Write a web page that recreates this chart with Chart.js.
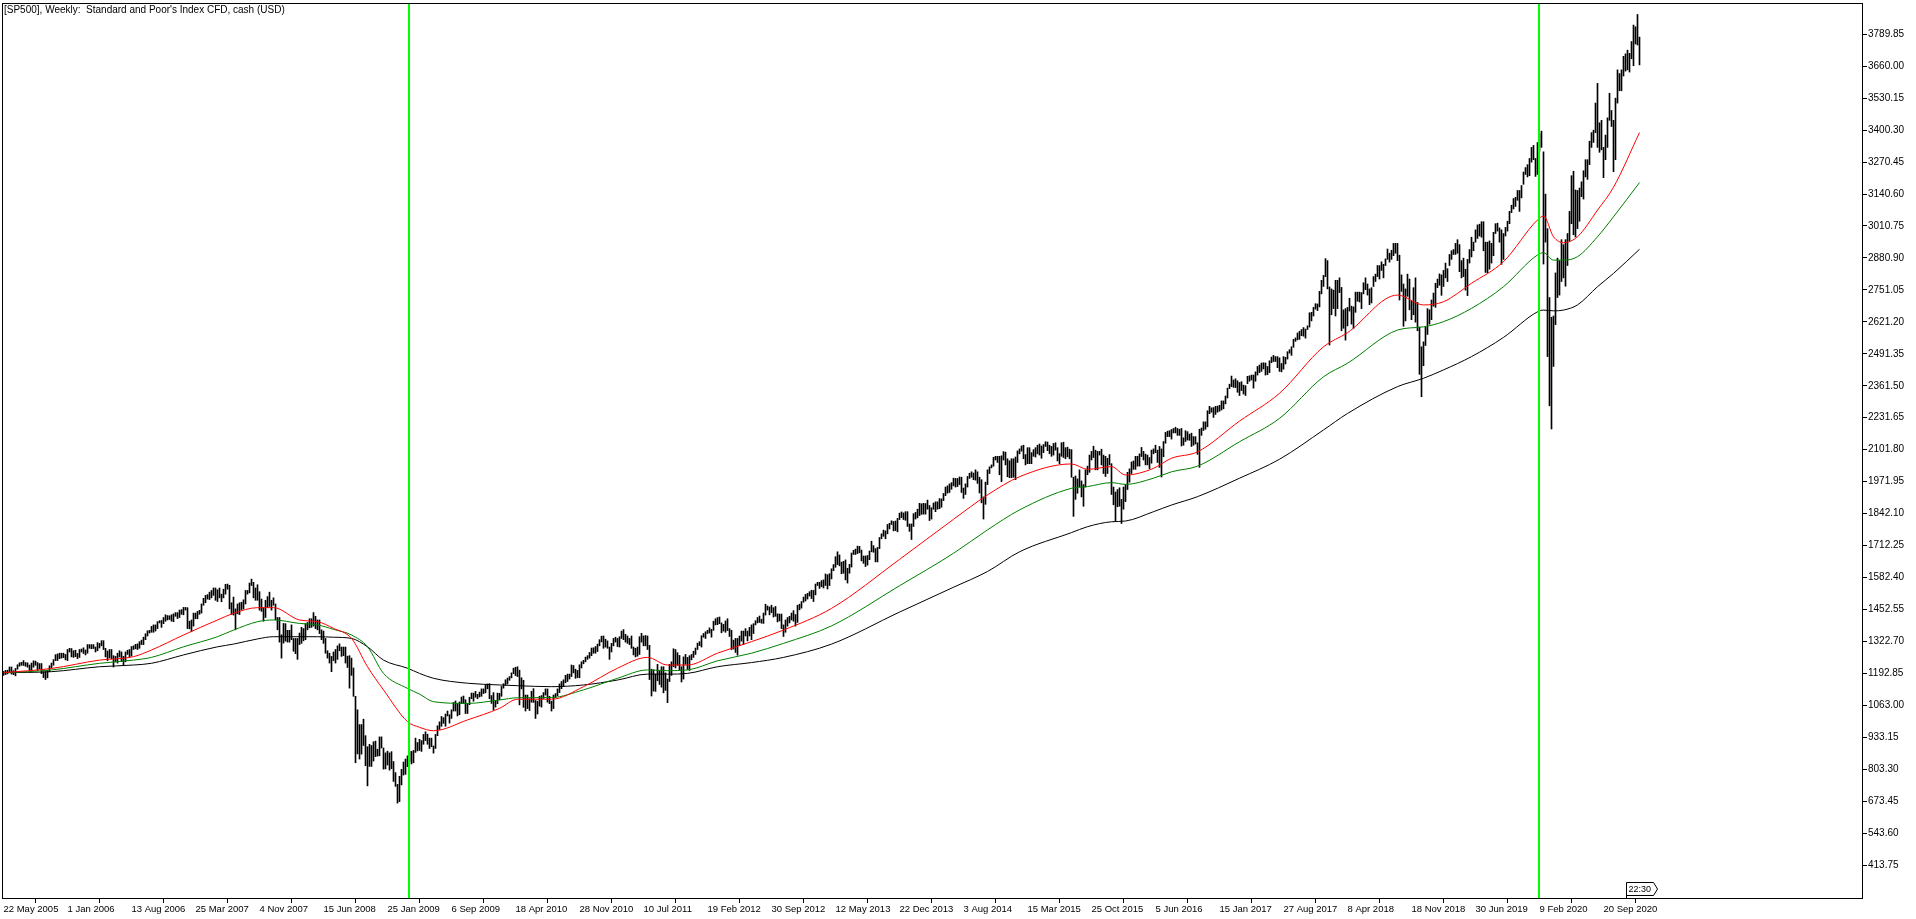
<!DOCTYPE html>
<html>
<head>
<meta charset="utf-8">
<title>SP500 Weekly</title>
<script src="https://cdn.jsdelivr.net/npm/chart.js@4.4.1/dist/chart.umd.min.js"></script>
<style>
  html, body { margin: 0; padding: 0; background: #fff; overflow: hidden; }
  #wrap { width: 1916px; height: 919px; }
</style>
</head>
<body>
<div id="wrap"><canvas id="graph" width="1916" height="919"></canvas></div>
<script>
const chartTitle = "[SP500], Weekly:  Standard and Poor's Index CFD, cash (USD)";

// weekly [high, low], one entry per week, first week = 22 May 2005
const bars2005 = [[1201,1185],[1205,1188],[1206,1191],[1219,1197],[1219,1190],[1204,1188],[1213,1183],[1228,1210],[1236,1222],[1238,1226],[1245,1225],[1237,1222],[1236,1218],[1227,1205],[1235,1202],[1244,1218],[1243,1226],[1237,1205],[1233,1211],[1233,1192],[1200,1176],[1200,1168],[1205,1175],[1224,1200],[1235,1215],[1249,1226],[1269,1245],[1272,1245],[1275,1253],[1275,1255],[1275,1257],[1270,1248]];
const bars2006 = [[1290,1245],[1295,1280],[1294,1260],[1285,1258],[1287,1261],[1274,1253],[1290,1258],[1292,1280],[1297,1274],[1288,1268],[1310,1275],[1310,1295],[1310,1293],[1310,1294],[1300,1280],[1318,1285],[1315,1296],[1326,1305],[1326,1290],[1295,1260],[1284,1245],[1290,1256],[1290,1252],[1265,1219],[1262,1240],[1275,1235],[1285,1260],[1280,1242],[1262,1224],[1280,1240],[1287,1270],[1290,1260],[1302,1264],[1305,1290],[1311,1293],[1313,1290],[1322,1295],[1328,1310],[1340,1310],[1354,1330],[1366,1345],[1368,1357],[1384,1360],[1390,1360],[1390,1365],[1403,1375],[1407,1398],[1408,1380],[1420,1395],[1431,1405],[1428,1410],[1427,1412]];
const bars2007 = [[1431,1405],[1435,1403],[1440,1425],[1440,1416],[1450,1420],[1452,1433],[1461,1431],[1461,1450],[1460,1375],[1405,1374],[1410,1363],[1438,1385],[1438,1415],[1445,1415],[1449,1433],[1475,1438],[1498,1470],[1510,1480],[1513,1495],[1523,1493],[1530,1500],[1540,1510],[1540,1490],[1533,1485],[1540,1500],[1515,1484],[1535,1500],[1555,1515],[1556,1535],[1551,1455],[1480,1433],[1503,1430],[1455,1370],[1475,1435],[1480,1432],[1482,1452],[1492,1455],[1530,1475],[1530,1515],[1560,1520],[1576,1550],[1563,1500],[1540,1490],[1553,1490],[1525,1450],[1495,1445],[1460,1405],[1490,1420],[1505,1460],[1523,1465],[1490,1450],[1500,1470]];
const bars2008 = [[1475,1411],[1420,1370],[1420,1320],[1350,1255],[1396,1316],[1395,1324],[1368,1320],[1368,1320],[1390,1330],[1335,1283],[1335,1273],[1335,1250],[1357,1310],[1380,1315],[1375,1325],[1395,1330],[1400,1370],[1415,1378],[1415,1380],[1440,1385],[1425,1375],[1410,1370],[1410,1355],[1370,1330],[1365,1315],[1335,1275],[1285,1255],[1275,1235],[1262,1200],[1280,1245],[1290,1235],[1305,1250],[1313,1285],[1300,1262],[1300,1265],[1300,1235],[1263,1217],[1265,1133],[1255,1185],[1215,1100],[1100,830],[1045,866],[985,845],[985,865],[1007,900],[940,818],[895,736],[905,815],[900,815],[915,837],[918,855],[885,857]];
const bars2009 = [[935,858],[935,890],[890,804],[870,805],[877,821],[870,800],[875,806],[835,754],[790,734],[742,666],[775,672],[803,740],[833,780],[845,783],[858,814],[876,836],[876,825],[880,830],[930,872],[912,878],[925,880],[920,876],[945,905],[956,920],[946,905],[930,888],[930,895],[898,869],[945,888],[980,940],[996,965],[1018,978],[1013,990],[1028,978],[1040,1020],[1025,991],[1045,1010],[1075,1040],[1081,1040],[1070,1020],[1077,1025],[1097,1070],[1101,1072],[1086,1030],[1070,1030],[1096,1066],[1113,1090],[1113,1080],[1120,1096],[1108,1090],[1117,1097],[1130,1100]];
const bars2010 = [[1130,1111],[1146,1114],[1150,1130],[1151,1090],[1103,1071],[1115,1044],[1081,1056],[1113,1070],[1112,1086],[1140,1100],[1151,1133],[1167,1145],[1174,1150],[1180,1165],[1195,1175],[1214,1192],[1218,1184],[1220,1180],[1206,1065],[1175,1130],[1165,1055],[1105,1040],[1105,1050],[1090,1042],[1120,1076],[1131,1075],[1083,1010],[1080,1028],[1100,1060],[1103,1056],[1115,1091],[1130,1105],[1130,1076],[1100,1070],[1080,1040],[1105,1050],[1111,1095],[1130,1102],[1150,1115],[1160,1131],[1167,1140],[1185,1155],[1190,1160],[1190,1170],[1227,1180],[1225,1195],[1210,1173],[1205,1176],[1228,1175],[1240,1215],[1246,1232],[1259,1240]];
const bars2011 = [[1265,1250],[1278,1255],[1296,1265],[1297,1275],[1302,1275],[1312,1282],[1330,1305],[1344,1321],[1345,1295],[1332,1300],[1325,1295],[1300,1250],[1315,1280],[1335,1305],[1340,1320],[1335,1302],[1342,1300],[1365,1335],[1371,1330],[1352,1320],[1345,1315],[1335,1310],[1345,1295],[1300,1268],[1295,1260],[1300,1263],[1342,1270],[1356,1320],[1345,1305],[1347,1305],[1345,1290],[1307,1168],[1210,1101],[1208,1121],[1190,1120],[1230,1163],[1205,1148],[1220,1137],[1220,1114],[1195,1124],[1170,1074],[1230,1160],[1240,1185],[1293,1220],[1290,1215],[1277,1226],[1266,1207],[1220,1158],[1260,1170],[1270,1230],[1258,1209],[1265,1205]];
const bars2012 = [[1270,1248],[1283,1258],[1296,1270],[1316,1290],[1322,1306],[1346,1300],[1355,1340],[1362,1335],[1368,1355],[1378,1357],[1372,1340],[1405,1368],[1415,1390],[1420,1391],[1422,1395],[1398,1358],[1392,1365],[1406,1360],[1415,1367],[1375,1343],[1368,1290],[1328,1292],[1335,1278],[1335,1267],[1345,1306],[1365,1324],[1365,1310],[1375,1345],[1365,1325],[1380,1345],[1390,1330],[1395,1355],[1407,1390],[1420,1398],[1426,1400],[1413,1397],[1438,1396],[1474,1430],[1467,1450],[1463,1431],[1470,1440],[1460,1422],[1465,1425],[1435,1402],[1434,1406],[1434,1375],[1390,1343],[1410,1360],[1420,1385],[1425,1398],[1438,1410],[1448,1405]];
const bars2013 = [[1432,1385],[1470,1400],[1474,1451],[1485,1458],[1503,1482],[1514,1487],[1518,1495],[1525,1507],[1531,1497],[1530,1485],[1556,1512],[1563,1550],[1563,1538],[1570,1545],[1573,1540],[1597,1550],[1594,1536],[1598,1550],[1618,1577],[1635,1610],[1667,1624],[1687,1635],[1674,1630],[1645,1598],[1648,1600],[1654,1573],[1620,1560],[1636,1600],[1682,1625],[1693,1676],[1698,1676],[1710,1680],[1709,1683],[1694,1650],[1670,1640],[1670,1627],[1672,1633],[1690,1655],[1730,1687],[1712,1685],[1700,1646],[1705,1646],[1745,1700],[1760,1740],[1775,1750],[1772,1740],[1798,1760],[1803,1780],[1813,1798],[1810,1772],[1812,1773],[1823,1768]];
const bars2014 = [[1844,1818],[1849,1826],[1845,1818],[1850,1815],[1850,1790],[1800,1770],[1800,1737],[1842,1790],[1847,1820],[1860,1825],[1884,1834],[1882,1839],[1884,1840],[1883,1840],[1897,1860],[1875,1814],[1866,1820],[1885,1860],[1890,1850],[1890,1860],[1903,1862],[1902,1868],[1924,1895],[1950,1915],[1955,1925],[1963,1928],[1968,1941],[1986,1955],[1985,1950],[1985,1952],[1991,1960],[1990,1928],[1946,1904],[1963,1920],[1993,1950],[2006,1985],[2012,1990],[2007,1980],[2020,1978],[2012,1965],[1990,1926],[1980,1886],[1910,1820],[1970,1880],[2020,1960],[2032,2005],[2040,2028],[2071,2035],[2075,2060],[2075,2050],[2075,2000],[2077,1972]];
const bars2015 = [[2094,2060],[2092,2040],[2065,1992],[2057,1988],[2065,1988],[2065,1990],[2072,1980],[2097,2050],[2105,2085],[2117,2096],[2120,2065],[2082,2040],[2110,2045],[2110,2045],[2090,2045],[2102,2075],[2110,2072],[2120,2085],[2125,2080],[2117,2067],[2123,2090],[2134,2115],[2133,2098],[2120,2086],[2115,2075],[2127,2080],[2130,2100],[2110,2056],[2086,2045],[2130,2075],[2132,2070],[2110,2065],[2112,2073],[2104,2065],[2102,1990],[1990,1831],[1995,1900],[1983,1925],[2020,1950],[1975,1910],[1960,1872],[2020,1950],[2035,2000],[2080,2010],[2095,2060],[2116,2070],[2100,2020],[2095,2020],[2095,2080],[2104,2040],[2080,2005],[2075,1993]];
const bars2016 = [[2067,2005],[2082,2040],[2045,1920],[1950,1878],[1930,1812],[1940,1870],[1947,1872],[1900,1802],[1950,1860],[1960,1891],[2010,1940],[2024,1970],[2052,2005],[2056,2022],[2075,2022],[2075,2035],[2085,2035],[2111,2074],[2095,2060],[2084,2040],[2080,2040],[2070,2025],[2100,2047],[2105,2085],[2120,2090],[2100,2050],[2115,2030],[2105,1991],[2135,2073],[2172,2128],[2177,2155],[2179,2155],[2184,2145],[2188,2170],[2193,2170],[2188,2160],[2185,2160],[2188,2117],[2150,2120],[2179,2135],[2175,2141],[2165,2140],[2169,2115],[2155,2120],[2155,2125],[2130,2083],[2185,2030],[2190,2160],[2215,2180],[2215,2185],[2260,2195],[2278,2248]];
const bars2017 = [[2272,2254],[2273,2233],[2278,2245],[2279,2254],[2282,2258],[2300,2263],[2300,2268],[2320,2288],[2352,2312],[2368,2350],[2401,2358],[2385,2355],[2390,2354],[2382,2335],[2375,2322],[2378,2342],[2364,2328],[2362,2322],[2400,2370],[2402,2380],[2405,2385],[2405,2352],[2418,2380],[2440,2405],[2446,2415],[2454,2420],[2455,2430],[2454,2405],[2440,2407],[2463,2415],[2478,2455],[2485,2460],[2480,2460],[2480,2435],[2475,2420],[2452,2418],[2480,2429],[2477,2450],[2500,2470],[2508,2494],[2520,2485],[2550,2518],[2556,2542],[2576,2548],[2583,2550],[2590,2565],[2598,2563],[2592,2555],[2605,2590],[2658,2600],[2660,2625],[2680,2645]];
const bars2018 = [[2695,2673],[2694,2667],[2745,2682],[2790,2735],[2810,2765],[2878,2805],[2870,2755],[2763,2527],[2755,2650],[2750,2675],[2790,2645],[2790,2675],[2800,2740],[2761,2585],[2670,2595],[2675,2547],[2680,2605],[2717,2665],[2685,2612],[2682,2595],[2742,2660],[2742,2705],[2742,2702],[2740,2675],[2780,2735],[2800,2752],[2775,2730],[2755,2691],[2760,2698],[2805,2765],[2815,2785],[2850,2805],[2850,2795],[2865,2830],[2855,2800],[2877,2850],[2917,2875],[2900,2864],[2912,2875],[2940,2890],[2940,2900],[2940,2870],[2892,2710],[2812,2745],[2775,2603],[2755,2625],[2815,2725],[2795,2670],[2705,2630],[2760,2650],[2800,2620],[2700,2585]];
const bars2019 = [[2600,2408],[2520,2317],[2540,2443],[2600,2525],[2675,2570],[2670,2612],[2710,2630],[2738,2685],[2778,2680],[2795,2760],[2816,2770],[2812,2729],[2830,2765],[2860,2800],[2837,2785],[2895,2850],[2910,2875],[2915,2895],[2940,2895],[2955,2900],[2935,2825],[2870,2800],[2880,2805],[2835,2750],[2875,2728],[2915,2860],[2965,2885],[2945,2910],[2995,2945],[3015,2960],[3018,2970],[3028,2965],[3028,2910],[2945,2822],[2945,2820],[2950,2835],[2940,2860],[2985,2890],[3020,2980],[3022,2990],[3003,2945],[2995,2855],[2980,2875],[3005,2970],[3030,2990],[3070,3020],[3095,3065],[3122,3080],[3127,3090],[3155,3115],[3155,3070],[3175,3125]];
const bars2020 = [[3230,3180],[3248,3220],[3260,3210],[3285,3215],[3330,3270],[3338,3280],[3285,3212],[3350,3220],[3385,3315],[3396,3330],[3312,2856],[3140,2945],[3000,2480],[2720,2280],[2640,2186],[2645,2440],[2820,2610],[2880,2720],[2870,2730],[2955,2785],[2935,2800],[2955,2766],[2980,2850],[3070,2950],[3215,3020],[3233,2975],[3157,2966],[3155,3000],[3165,3030],[3190,3130],[3235,3120],[3280,3210],[3280,3200],[3355,3260],[3390,3330],[3400,3350],[3510,3390],[3590,3330],[3430,3310],[3440,3320],[3330,3207],[3380,3280],[3450,3330],[3550,3440],[3480,3415],[3440,3231],[3530,3280],[3645,3510],[3630,3560],[3645,3560],[3700,3620],[3710,3640]];
const bars2021 = [[3725,3645],[3712,3636],[3760,3690],[3827,3662],[3820,3750],[3870,3746],[3778,3665]];

const maWeeks = [0,24,48,65,74,90,107,115,127,135,148,157,165,174,182,190,202,208,215,232,248,257,274,290,307,322,332,342,357,374,390,414,448,475,492,508,534,542,554,561,575,584,597,618,638,660,672,697,710,720,734,750,767,770,775,780,787,797,805,818];
const maRed = [1196,1213,1247,1261,1288,1349,1410,1437,1460,1460,1410,1403,1376,1335,1220,1126,997,974,960,1004,1051,1088,1088,1139,1214,1258,1227,1227,1275,1322,1369,1457,1656,1819,1918,1992,2044,2022,2033,1999,2026,2067,2093,2218,2331,2520,2577,2730,2690,2703,2778,2866,3035,3051,2967,2943,2967,3075,3168,3390];
const maGreen = [1195,1207,1234,1247,1258,1301,1342,1369,1403,1410,1396,1390,1372,1349,1301,1193,1132,1109,1078,1071,1085,1094,1095,1126,1173,1207,1204,1207,1244,1275,1315,1386,1549,1681,1776,1857,1945,1952,1968,1961,1986,2012,2035,2134,2229,2398,2453,2588,2601,2622,2676,2764,2893,2902,2872,2872,2886,2967,3048,3187];
const maBlack = [1196,1200,1220,1227,1234,1268,1301,1312,1333,1342,1342,1342,1340,1335,1301,1247,1214,1193,1173,1153,1146,1143,1139,1146,1166,1190,1190,1193,1220,1237,1258,1312,1442,1543,1607,1687,1765,1789,1809,1812,1850,1877,1911,1986,2063,2182,2249,2358,2392,2426,2480,2558,2662,2669,2666,2669,2690,2764,2818,2916];

const xTickWeeks = [0,32,64,96,128,160,192,224,256,288,320,352,384,416,448,480,512,544,576,608,640,672,704,736,768,800];
const xTickLabels = ['22 May 2005','1 Jan 2006','13 Aug 2006','25 Mar 2007','4 Nov 2007','15 Jun 2008','25 Jan 2009','6 Sep 2009','18 Apr 2010','28 Nov 2010','10 Jul 2011','19 Feb 2012','30 Sep 2012','12 May 2013','22 Dec 2013','3 Aug 2014','15 Mar 2015','25 Oct 2015','5 Jun 2016','15 Jan 2017','27 Aug 2017','8 Apr 2018','18 Nov 2018','30 Jun 2019','9 Feb 2020','20 Sep 2020'];
const yTickValues = [413.75,543.60,673.45,803.30,933.15,1063.00,1192.85,1322.70,1452.55,1582.40,1712.25,1842.10,1971.95,2101.80,2231.65,2361.50,2491.35,2621.20,2751.05,2880.90,3010.75,3140.60,3270.45,3400.30,3530.15,3660.00,3789.85];

const markerWeeks = [202.5, 767.5];
const clockLabel = '22:30';
const clockWeek = 811;

const weeklyBars = [].concat(bars2005, bars2006, bars2007, bars2008, bars2009, bars2010,
  bars2011, bars2012, bars2013, bars2014, bars2015, bars2016, bars2017, bars2018,
  bars2019, bars2020, bars2021);

const FONT = "'Liberation Sans', Arial, sans-serif";
Chart.defaults.font.family = FONT;
Chart.defaults.font.size = 10;
Chart.defaults.color = '#000';

const mtDecor = {
  id: 'mtDecor',
  beforeDraw(chart) {
    const { ctx, width, height } = chart;
    ctx.save();
    ctx.fillStyle = '#fff';
    ctx.fillRect(0, 0, width, height);
    ctx.restore();
  },
  afterDatasetsDraw(chart) {
    const { ctx, chartArea: a, scales: { x } } = chart;
    ctx.save();
    ctx.fillStyle = '#00ff00';
    markerWeeks.forEach(w => {
      const px = Math.round(x.getPixelForValue(w));
      ctx.fillRect(px - 1, a.top, 2, a.bottom - a.top);
    });
    ctx.restore();
  },
  afterDraw(chart) {
    const { ctx, chartArea: a, scales: { x } } = chart;
    ctx.save();
    ctx.strokeStyle = '#000';
    ctx.lineWidth = 1;
    ctx.strokeRect(a.left + 0.5, a.top + 0.5, a.right - a.left - 1, a.bottom - a.top - 1);

    ctx.fillStyle = '#000';
    ctx.font = '10px ' + FONT;
    ctx.textBaseline = 'top';
    ctx.textAlign = 'left';
    ctx.fillText(chartTitle, 4, 5);

    // bar clock tag above the time axis
    const lx = Math.round(x.getPixelForValue(clockWeek)) + 0.5;
    const ty = a.bottom - 16.5, by = a.bottom - 3.5, my = (ty + by) / 2;
    ctx.font = '9px ' + FONT;
    const tw = Math.ceil(ctx.measureText(clockLabel).width);
    ctx.beginPath();
    ctx.moveTo(lx, a.bottom);
    ctx.lineTo(lx, ty);
    ctx.lineTo(lx + tw + 4, ty);
    ctx.lineTo(lx + tw + 8, my);
    ctx.lineTo(lx + tw + 4, by);
    ctx.lineTo(lx, by);
    ctx.fillStyle = '#fff';
    ctx.fill();
    ctx.stroke();
    ctx.fillStyle = '#000';
    ctx.textBaseline = 'middle';
    ctx.fillText(clockLabel, lx + 2, my + 0.5);
    ctx.restore();
  }
};

const pxPerPoint = 0.24614;
const yMax = 3789.85 + (34.2 - 3) / pxPerPoint;
const yMin = yMax - 896 / pxPerPoint;

function maLine(values, color) {
  return {
    type: 'line',
    data: maWeeks.map((w, i) => ({ x: w, y: values[i] })),
    borderColor: color,
    borderWidth: 1,
    pointRadius: 0,
    cubicInterpolationMode: 'monotone',
    order: 1
  };
}

new Chart(document.getElementById('graph').getContext('2d'), {
  type: 'bar',
  data: {
    datasets: [
      maLine(maRed, '#ff0000'),
      maLine(maGreen, '#008000'),
      maLine(maBlack, '#000000'),
      {
        type: 'bar',
        data: weeklyBars.map((b, i) => ({ x: i, y: [b[1], b[0]] })),
        backgroundColor: '#000',
        borderWidth: 0,
        barThickness: 1,
        grouped: false,
        order: 10
      }
    ]
  },
  options: {
    responsive: false,
    devicePixelRatio: 1,
    animation: false,
    events: [],
    layout: { padding: { left: 2, top: 3, right: 0, bottom: 0 } },
    plugins: { legend: { display: false }, tooltip: { enabled: false } },
    scales: {
      x: {
        type: 'linear',
        position: 'bottom',
        min: -0.75,
        max: -0.75 + 1861 / 2,
        offset: false,
        border: { display: false },
        grid: { drawOnChartArea: false, drawTicks: true, tickLength: 4, color: '#000' },
        ticks: {
          align: 'start',
          autoSkip: false,
          maxRotation: 0,
          padding: 1,
          font: { size: 9.5 },
          callback: (v, i) => xTickLabels[i]
        },
        afterBuildTicks: s => { s.ticks = xTickWeeks.map(v => ({ value: v })); },
        afterFit: s => { s.height = 20; s.paddingLeft = 0; s.paddingRight = 0; }
      },
      y: {
        type: 'linear',
        position: 'right',
        min: yMin,
        max: yMax,
        border: { display: false },
        grid: { drawOnChartArea: false, drawTicks: true, tickLength: 4, color: '#000' },
        ticks: {
          autoSkip: false,
          padding: 1,
          callback: v => v.toFixed(2)
        },
        afterBuildTicks: s => { s.ticks = yTickValues.map(v => ({ value: v })); },
        afterFit: s => { s.width = 53; s.paddingTop = 0; s.paddingBottom = 0; }
      }
    }
  },
  plugins: [mtDecor]
});
</script>
</body>
</html>
